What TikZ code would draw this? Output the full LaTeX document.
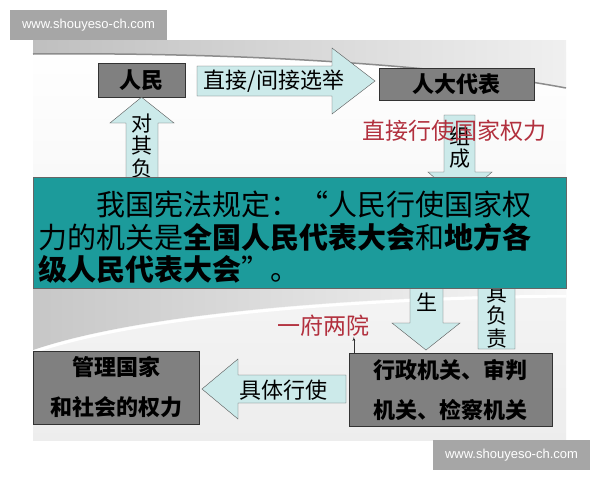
\documentclass[tikz,border=0pt]{standalone}
\usepackage{fontspec}
\setsansfont{Liberation Sans}
\newfontfamily\cjk{Noto Sans CJK SC}
\usetikzlibrary{arrows}
\usetikzlibrary{positioning}

\definecolor{boxgray}{RGB}{128,128,128}
\definecolor{arrowcyan}{RGB}{204,234,234}
\definecolor{lawteal}{RGB}{28,155,155}
\definecolor{powerred}{RGB}{178,48,62}
\definecolor{markgray}{RGB}{166,166,166}

\begin{document}
\begin{tikzpicture}[x=1pt,y=-1pt]
  \tikzset{box/.style = {shape=rectangle,draw=black!80,fill=boxgray,inner sep=0pt,align=center,font=\cjk\bfseries\fontsize{22}{40}\selectfont}}
  \tikzset{fat/.style = {draw=black!65,fill=arrowcyan,line join=miter}}
  \tikzset{tag/.style = {inner sep=0pt,font=\cjk\fontsize{22}{22}\selectfont}}
  \tikzset{vtag/.style = {inner sep=0pt,align=center,font=\cjk\fontsize{21}{22.5}\selectfont}}
  \tikzset{redtext/.style = {inner sep=0pt,text=powerred,font=\cjk\fontsize{23}{23}\selectfont}}
  \tikzset{wmark/.style = {fill=markgray,text=white,minimum width=157,minimum height=30,inner sep=0pt,font=\sffamily\fontsize{13}{13}\selectfont}}
  \tikzset{edge/.style = {->,> = latex'}}

  \useasboundingbox (0,0) rectangle (600,480);
  \fill[white] (0,0) rectangle (600,480);

  % slide background
  \shade[top color=white,bottom color=black!7] (33,40) rectangle (566,440);
  \shade[left color=black!25,right color=black!6] (33,40) -- (566,40) -- (566,88) .. controls (450,66) and (250,52) .. (33,54) -- cycle;
  \draw[black!45,line width=1.5pt] (33,54) .. controls (250,52) and (450,66) .. (566,88);
  \shade[left color=black!22,right color=black!3] (33,288) -- (566,288) -- (566,294) .. controls (380,296) and (150,310) .. (33,350) -- cycle;
  \draw[white,line width=3pt] (566,296) .. controls (380,298) and (150,312) .. (33,352);

  \node[wmark] (wm1) at (88.5,25) {www.shouyeso-ch.com};
  \node[wmark] (wm2) at (511.5,455) {www.shouyeso-ch.com};

  % top row
  \node[box,minimum width=87,minimum height=34] (people) at (141.5,80) {人民};
  \node[box,minimum width=155,minimum height=32] (npc) at (456.5,84) {人大代表};

  \draw[fat] (197,66) -- (332,66) -- (332,48) -- (375,81) -- (332,114) -- (332,96) -- (197,96) -- cycle;
  \node[tag] (elect) at (274,81) {直接/间接选举};

  \draw[fat] (126,200) -- (126,123) -- (110,123) -- (people.south) -- (174,123) -- (158,123) -- (158,200) -- cycle;
  \node[vtag] (resp1) at (142,146) {对\\其\\负};

  \draw[fat] (444,115) -- (475,115) -- (475,172) -- (492,172) -- (460,200) -- (428,172) -- (444,172) -- cycle;
  \node[vtag] (form) at (460,147.5) {组\\成};
  \node[redtext] (direct) at (454,131) {直接行使国家权力};

  % lower arrows (partly under the law box)
  \draw[fat] (410,250) -- (410,323) -- (392,323) -- (426,350) -- (460,323) -- (443,323) -- (443,250) -- cycle;
  \node[vtag] (made) at (426.5,302) {生};

  \draw[fat] (478,349) -- (478,215) -- (462,215) -- (496.5,185) -- (531,215) -- (515,215) -- (515,349) -- cycle;
  \node[vtag] (resp2) at (496.5,316) {其\\负\\责};

  % law box
  \node[draw=black!60,fill=lawteal,minimum width=533,minimum height=111,inner sep=0pt] (law) at (299.5,232.5) {};
  \node[anchor=west,inner sep=0pt,align=left,font=\cjk\fontsize{29}{32.5}\selectfont] (lawtext) at (38,237.5)
    {\hspace*{2em}我国宪法规定：\makebox[1em][r]{“}人民行使国家权\\
     力的机关是{\bfseries 全国人民代表大会}和{\bfseries 地方各}\\
     {\bfseries 级人民代表大会}\makebox[1em][l]{”}。};

  % bottom row
  \node[box,minimum width=166,minimum height=73] (manage) at (116,387.5) {管理国家\\和社会的权力};
  \node[box,minimum width=203,minimum height=73] (gov) at (450.5,389.5) {行政机关、审判\\机关、检察机关};

  \draw[fat] (346,375) -- (238,375) -- (238,359) -- (202,389) -- (238,419) -- (238,403) -- (346,403) -- cycle;
  \node[tag] (exert) at (283,390) {具体行使};

  \node[redtext] (branch) at (323,326) {一府两院};
  \coordinate (gorig) at ([xshift=5pt]gov.north west);
  \draw[edge,black!80,thin] (gorig) -- (gorig |- branch.south);

\end{tikzpicture}
\end{document}
